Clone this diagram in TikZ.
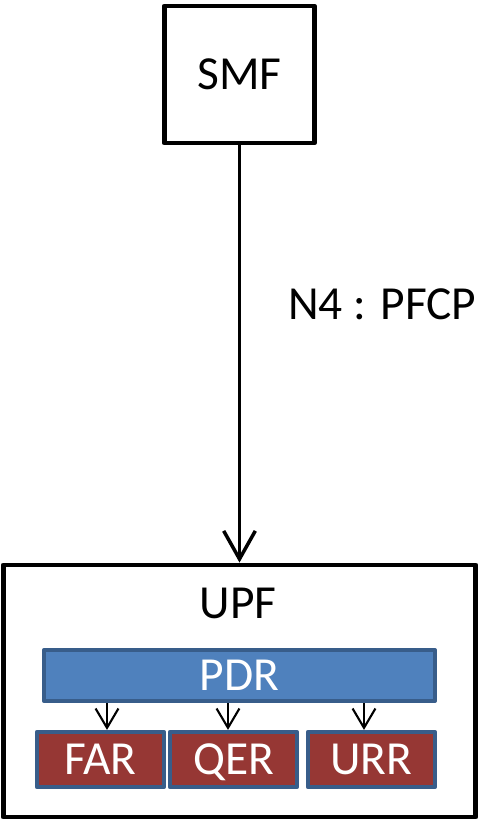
\documentclass[tikz,border=0pt]{standalone}
\usepackage{fontspec}
\setmainfont{Carlito}
\usetikzlibrary{arrows.meta,positioning}
\definecolor{rulesblue}{RGB}{79,129,189}
\definecolor{rulesedge}{RGB}{56,93,138}
\definecolor{rulesred}{RGB}{150,55,52}

\tikzset{
  nfbox/.style={draw=black,line width=2.8pt,fill=white,inner sep=0pt},
  rulebox/.style={draw=rulesedge,line width=2.4pt,inner sep=0pt,text=white,
    font=\fontsize{27}{32}\selectfont,text height=17.4pt,text depth=0pt,
    minimum height=1.1cm},
  bigtxt/.style={font=\fontsize{27}{32}\selectfont,inner sep=0pt},
}

\begin{document}
\begin{tikzpicture}[x=.02cm,y=-.02cm,line join=round]
\useasboundingbox (0,0) rectangle (481,823);
% control plane function
\node[nfbox,bigtxt,minimum width=3cm,minimum height=2.74cm] (smf) at (239.5,74.5) {SMF};
% user plane function with its rules
\node[nfbox,minimum width=9.46cm,minimum height=5.04cm] (upf) at (239.5,691) {};
\node[bigtxt] (upftxt) at (238,603) {UPF};
\node[rulebox,fill=rulesblue,minimum width=7.82cm,minimum height=1.02cm] (pdr) at (239.5,675.5) {PDR};
\node[rulebox,fill=rulesred,minimum width=2.54cm] (far) at (100.5,759.5) {FAR};
\node[rulebox,fill=rulesred,minimum width=2.54cm] (qer) at (233.5,759.5) {QER};
\node[rulebox,fill=rulesred,minimum width=2.54cm] (urr) at (371.5,759.5) {URR};
% N4 interface
\draw[-{Straight Barb[length=16pt,width=18pt,line width=2pt]},line width=2pt]
  (smf.south) -- node[bigtxt,right=.94cm,pos=.38] (n4) {N4 : PFCP} (upf.north);
\foreach \r/\dx in {far/6.5,qer/-5.5,urr/-7.5}{
  \draw[-{Straight Barb[length=11pt,width=13pt,line width=1.2pt]},line width=1.2pt]
    ([xshift=\dx*.02cm]pdr.south -| \r.north) -- ([xshift=\dx*.02cm]\r.north);}
\end{tikzpicture}
\end{document}
